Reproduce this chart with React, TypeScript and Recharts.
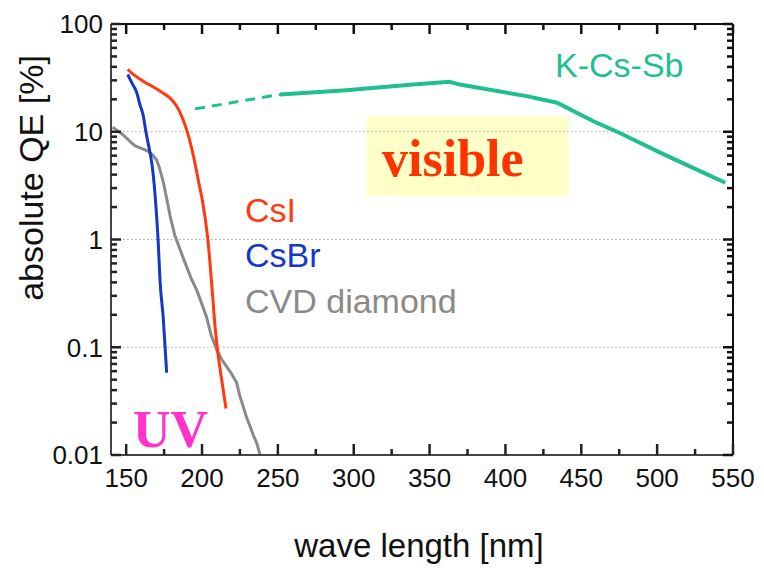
import React from "react";
import { LineChart, Line, XAxis, YAxis, ReferenceLine, ReferenceArea } from "recharts";

// wavelength [nm] and absolute QE [%]
const csiWave = [151, 156, 162, 168, 174, 179, 183, 187, 190, 193, 196, 198, 200, 202, 204, 205.5, 207, 208.5, 210, 212.5, 215.8];
const csiQe = [38, 33, 29, 26, 23, 20.5, 17.5, 13.5, 10.3, 7.2, 4.6, 3.3, 2.4, 1.6, 0.95, 0.55, 0.3, 0.16, 0.1, 0.055, 0.027];

const csbrWave = [151, 154, 157, 159, 161.3, 163, 165, 167, 168.5, 170, 171.2, 172.3, 174.4, 176.7];
const csbrQe = [34, 28, 23, 18, 14, 10, 7.2, 5, 3.2, 1.7, 0.9, 0.42, 0.19, 0.058];

const cvdWave = [141, 144, 147, 150, 153, 156, 160, 163.5, 167, 170, 172, 174.5, 176.7, 179, 182, 185.5, 189, 193, 196.5, 200, 203, 206, 209.6, 213, 216.2, 219, 222.8, 225, 227.2, 229.5, 231.6, 234, 236, 237.5, 238.2];
const cvdQe = [11, 10.3, 9.6, 8.8, 8, 7.4, 7, 6.7, 6.2, 5.5, 4.6, 3.4, 2.4, 1.65, 1.1, 0.81, 0.6, 0.43, 0.34, 0.25, 0.19, 0.13, 0.095, 0.077, 0.066, 0.058, 0.047, 0.035, 0.028, 0.022, 0.0186, 0.015, 0.013, 0.011, 0.01];

const kcsDashWave = [195.4, 218.4, 251.4];
const kcsDashQe = [16.3, 18.5, 22.2];
const kcsWave = [251.4, 295, 339, 363, 370, 414, 434, 458, 475, 502, 524, 545];
const kcsQe = [22.2, 24.3, 27.4, 29.1, 27.4, 21.4, 18.6, 12.5, 9.8, 6.4, 4.6, 3.36];

const xTicks = [150, 175, 200, 225, 250, 275, 300, 325, 350, 375, 400, 425, 450, 475, 500, 525, 550];
const decades = [0.01, 0.1, 1, 10, 100];
const gridLevels = [0.1, 1, 10];
const visibleBand = { x1: 308.5, x2: 441.4, y1: 2.52, y2: 13.9 };

const yTicks: number[] = [];
decades.forEach((d, i) => {
  yTicks.push(d);
  if (i < decades.length - 1) [2, 3, 4, 5, 6, 7, 8, 9].forEach((m) => yTicks.push(+(d * m).toPrecision(3)));
});

const zip = (w: number[], q: number[]) => w.map((x, i) => ({ w: x, q: q[i] }));

const SANS = "'Liberation Sans', Arial, sans-serif";
const SERIF = "'Liberation Serif', 'Times New Roman', serif";
const AXIS_DARK = "#111";
const AXIS_GREY = "#444";

const isDecade = (v: number) => Math.abs(Math.log10(v) - Math.round(Math.log10(v))) < 1e-6;

const BottomTick = (p: any) => {
  const major = p.payload.value % 50 === 0;
  return (
    <g>
      <line x1={p.x} x2={p.x} y1={p.y} y2={p.y - (major ? 11 : 6)} stroke="#222" strokeWidth={2.5} />
      {major && (
        <text x={p.x} y={p.y + 32} textAnchor="middle" fontSize={26} fontFamily={SANS} fill="#111">
          {p.payload.value}
        </text>
      )}
    </g>
  );
};

const TopTick = (p: any) => {
  const major = p.payload.value % 50 === 0;
  return <line x1={p.x} x2={p.x} y1={p.y} y2={p.y + (major ? 10 : 6)} stroke={AXIS_DARK} strokeWidth={2.5} />;
};

const LeftTick = (p: any) => {
  const major = isDecade(p.payload.value);
  return (
    <g>
      <line x1={p.x} x2={p.x + (major ? 10 : 6)} y1={p.y} y2={p.y} stroke="#222" strokeWidth={2.5} />
      {major && (
        <text x={p.x - 8} y={p.y} dy="0.36em" textAnchor="end" fontSize={26} fontFamily={SANS} fill="#111">
          {String(p.payload.value)}
        </text>
      )}
    </g>
  );
};

const RightTick = (p: any) => {
  const major = isDecade(p.payload.value);
  return <line x1={p.x} x2={p.x - (major ? 10 : 6)} y1={p.y} y2={p.y} stroke={AXIS_DARK} strokeWidth={2.5} />;
};

export default function App() {
  return (
    <div style={{ position: "absolute", left: 0, top: 0, width: 764, height: 568, background: "#fff" }}>
      <LineChart width={764} height={568} margin={{ top: 23, right: 30, bottom: 0, left: 0 }}>
        <XAxis
          xAxisId="b"
          dataKey="w"
          type="number"
          domain={[140, 550]}
          ticks={xTicks}
          interval={0}
          allowDataOverflow
          height={113}
          tickSize={0}
          tickMargin={0}
          tickLine={false}
          tick={BottomTick}
          axisLine={{ stroke: AXIS_GREY, strokeWidth: 2 }}
        />
        <XAxis
          xAxisId="t"
          orientation="top"
          dataKey="w"
          type="number"
          domain={[140, 550]}
          ticks={xTicks}
          interval={0}
          allowDataOverflow
          height={1}
          tickSize={0}
          tickMargin={0}
          tickLine={false}
          tick={TopTick}
          axisLine={{ stroke: AXIS_DARK, strokeWidth: 2 }}
        />
        <YAxis
          yAxisId="l"
          type="number"
          scale="log"
          domain={[0.01, 100]}
          ticks={yTicks}
          interval={0}
          allowDataOverflow
          width={111}
          tickSize={0}
          tickMargin={0}
          tickLine={false}
          tick={LeftTick}
          axisLine={{ stroke: AXIS_GREY, strokeWidth: 2 }}
        />
        <YAxis
          yAxisId="r"
          orientation="right"
          type="number"
          scale="log"
          domain={[0.01, 100]}
          ticks={yTicks}
          interval={0}
          allowDataOverflow
          width={1}
          tickSize={0}
          tickMargin={0}
          tickLine={false}
          tick={RightTick}
          axisLine={{ stroke: AXIS_DARK, strokeWidth: 2 }}
        />
        {gridLevels.map((g) => (
          <ReferenceLine key={g} xAxisId="b" yAxisId="l" y={g} stroke="#aaa" strokeWidth={1.2} strokeDasharray="1.5 2.5" />
        ))}
        <ReferenceArea
          xAxisId="b"
          yAxisId="l"
          x1={visibleBand.x1}
          x2={visibleBand.x2}
          y1={visibleBand.y1}
          y2={visibleBand.y2}
          fill="#ffffc8"
          fillOpacity={1}
          stroke="none"
        />
        <Line xAxisId="b" yAxisId="l" data={zip(cvdWave, cvdQe)} dataKey="q" type="linear" stroke="#8a8a8a" strokeWidth={3} dot={false} isAnimationActive={false} />
        <Line xAxisId="b" yAxisId="l" data={zip(csbrWave, csbrQe)} dataKey="q" type="monotone" stroke="#1638c8" strokeWidth={3} dot={false} isAnimationActive={false} />
        <Line xAxisId="b" yAxisId="l" data={zip(csiWave, csiQe)} dataKey="q" type="monotone" stroke="#ff3a10" strokeWidth={3} dot={false} isAnimationActive={false} />
        <Line xAxisId="b" yAxisId="l" data={zip(kcsDashWave, kcsDashQe)} dataKey="q" type="linear" stroke="#1fbf8f" strokeWidth={3} strokeDasharray="10 7" dot={false} isAnimationActive={false} />
        <Line xAxisId="b" yAxisId="l" data={zip(kcsWave, kcsQe)} dataKey="q" type="linear" stroke="#1fbf8f" strokeWidth={4} dot={false} isAnimationActive={false} />
      </LineChart>
      <svg width={764} height={568} style={{ position: "absolute", left: 0, top: 0, pointerEvents: "none" }}>
        <text x={31} y={178} transform="rotate(-90 31 178)" dy="0.35em" textAnchor="middle" fontSize={34} fontFamily={SANS} fill="#111">
          absolute QE [%]
        </text>
        <text x={419} y={557} textAnchor="middle" fontSize={33} fontFamily={SANS} fill="#111">
          wave length [nm]
        </text>
        <text x={555} y={77} fontSize={34} fontFamily={SANS} fill="#1fbf8f">K-Cs-Sb</text>
        <text x={245} y={222} fontSize={34} fontFamily={SANS} fill="#ff3a10">CsI</text>
        <text x={245} y={267} fontSize={34} fontFamily={SANS} fill="#1638c8">CsBr</text>
        <text x={245} y={313} fontSize={34} fontFamily={SANS} fill="#8a8a8a">CVD diamond</text>
        <text x={382} y={176} fontSize={52} fontWeight="bold" fontFamily={SERIF} fill="#ff3300">visible</text>
        <text x={133} y={447} fontSize={52} fontWeight="bold" fontFamily={SERIF} fill="#ff33cc">UV</text>
      </svg>
    </div>
  );
}
